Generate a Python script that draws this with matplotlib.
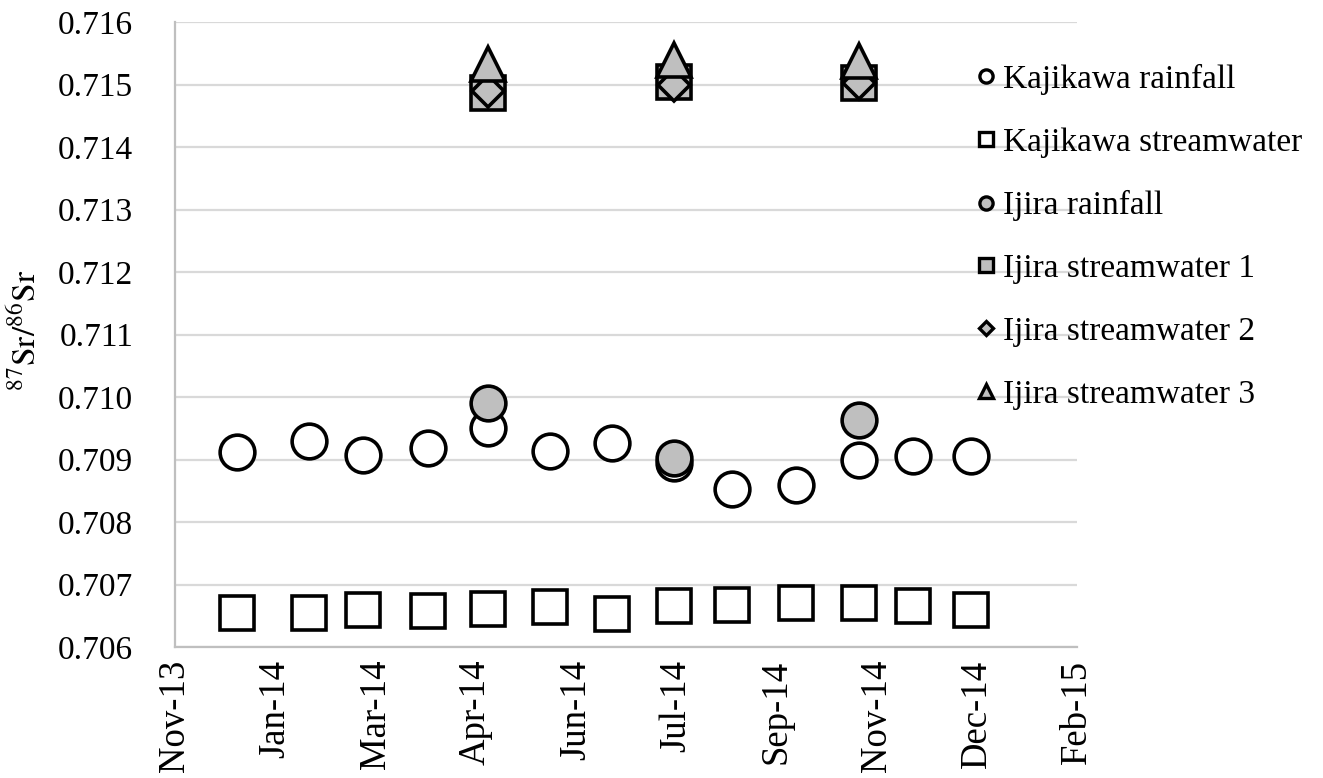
import matplotlib
matplotlib.use("Agg")
import matplotlib.pyplot as plt
import matplotlib.dates as mdates
from matplotlib.lines import Line2D
import datetime as dt

plt.rcParams['font.family'] = ['Liberation Serif', 'DejaVu Serif']
plt.rcParams['mathtext.fontset'] = 'stix'

# ---- data ----
kaji_dates = ['2013-12-23', '2014-01-28', '2014-02-24', '2014-03-28', '2014-04-27',
              '2014-05-28', '2014-06-28', '2014-07-29', '2014-08-27', '2014-09-28',
              '2014-10-29', '2014-11-25', '2014-12-24']
kaji_rain = [0.70912, 0.70930, 0.70907, 0.70919, 0.70950, 0.70913, 0.70927,
             0.70894, 0.70853, 0.70860, 0.70899, 0.70905, 0.70905]
kaji_stream = [0.70655, 0.70655, 0.70659, 0.70657, 0.70661, 0.70664, 0.70653,
               0.70666, 0.70668, 0.70670, 0.70670, 0.70666, 0.70659]
ijira_dates = ['2014-04-27', '2014-07-29', '2014-10-29']
ijira_rain = [0.70991, 0.70903, 0.70963]
ijira_stream1 = [0.71487, 0.71504, 0.71502]
ijira_stream2 = [0.71489, 0.71499, 0.71503]
ijira_stream3 = [0.71533, 0.71540, 0.71538]
x_start = '2013-11-22'
x_tick_step_days = 50
n_x_ticks = 10
y_ticks = [0.706, 0.707, 0.708, 0.709, 0.710, 0.711, 0.712, 0.713, 0.714, 0.715, 0.716]
series_labels = ['Kajikawa rainfall', 'Kajikawa streamwater', 'Ijira rainfall',
                 'Ijira streamwater 1', 'Ijira streamwater 2', 'Ijira streamwater 3']

def to_dates(lst):
    return [dt.datetime.strptime(s, '%Y-%m-%d') for s in lst]

kd = to_dates(kaji_dates)
idt = to_dates(ijira_dates)
d0 = dt.datetime.strptime(x_start, '%Y-%m-%d')
xticks = [d0 + dt.timedelta(days=x_tick_step_days * k) for k in range(n_x_ticks)]

fig = plt.figure(figsize=(13.23, 7.78), dpi=100)
ax = fig.add_axes([175/1323, 1-647/778, (1077-175)/1323, (647-22)/778])

gray = '#bfbfbf'
ew = 2.6
ax.plot(kd, kaji_rain, 'o', ms=25, mfc='white', mec='black', mew=ew, ls='none', zorder=3)
ax.plot(kd, kaji_stream, 's', ms=24.5, mfc='white', mec='black', mew=ew, ls='none', zorder=3)
ax.plot(idt, ijira_rain, 'o', ms=25, mfc=gray, mec='black', mew=ew, ls='none', zorder=3)
ax.plot(idt, ijira_stream1, 's', ms=24.5, mfc=gray, mec='black', mew=ew, ls='none', zorder=3)
ax.plot(idt, ijira_stream2, 'D', ms=16.5, mfc=gray, mec='black', mew=ew, ls='none', zorder=3)
ax.plot(idt, ijira_stream3, '^', ms=24, mfc=gray, mec='black', mew=ew, ls='none', zorder=3)

ax.set_xlim(xticks[0], xticks[-1])
ax.set_ylim(y_ticks[0], y_ticks[-1])
ax.set_xticks(xticks)
ax.xaxis.set_major_formatter(mdates.DateFormatter('%b-%y'))
ax.set_yticks(y_ticks)
ax.set_yticklabels([f'{v:.3f}' for v in y_ticks])
ax.tick_params(axis='x', labelsize=26.5, rotation=90, length=0, pad=9)
ax.tick_params(axis='y', labelsize=24, length=0, pad=30)
ax.grid(axis='y', color='#d9d9d9', lw=1.6)
ax.set_axisbelow(True)
for s in ['top', 'right']:
    ax.spines[s].set_visible(False)
for s in ['left', 'bottom']:
    ax.spines[s].set_color('#bfbfbf')
    ax.spines[s].set_linewidth(1.6)

fig.text(25/1323, 1-330/778, r'$^{87}\mathrm{Sr}/^{86}\mathrm{Sr}$', rotation=90,
         ha='center', va='center', fontsize=24)

hs = [Line2D([], [], marker='o', ls='none', ms=9.5, mfc='white', mec='black', mew=2.4),
      Line2D([], [], marker='s', ls='none', ms=9.5, mfc='white', mec='black', mew=2.4),
      Line2D([], [], marker='o', ls='none', ms=9.5, mfc=gray, mec='black', mew=2.4),
      Line2D([], [], marker='s', ls='none', ms=9.5, mfc=gray, mec='black', mew=2.4),
      Line2D([], [], marker='D', ls='none', ms=7, mfc=gray, mec='black', mew=2.4),
      Line2D([], [], marker='^', ls='none', ms=9.5, mfc=gray, mec='black', mew=2.4)]
leg = fig.legend(hs, series_labels, loc='upper left', bbox_to_anchor=(978/1323, 1-64/778),
                 frameon=False, fontsize=24, handlelength=0.5, handletextpad=0.25,
                 labelspacing=0.97, borderpad=0, borderaxespad=0)

fig.savefig('out.png', dpi=100)
